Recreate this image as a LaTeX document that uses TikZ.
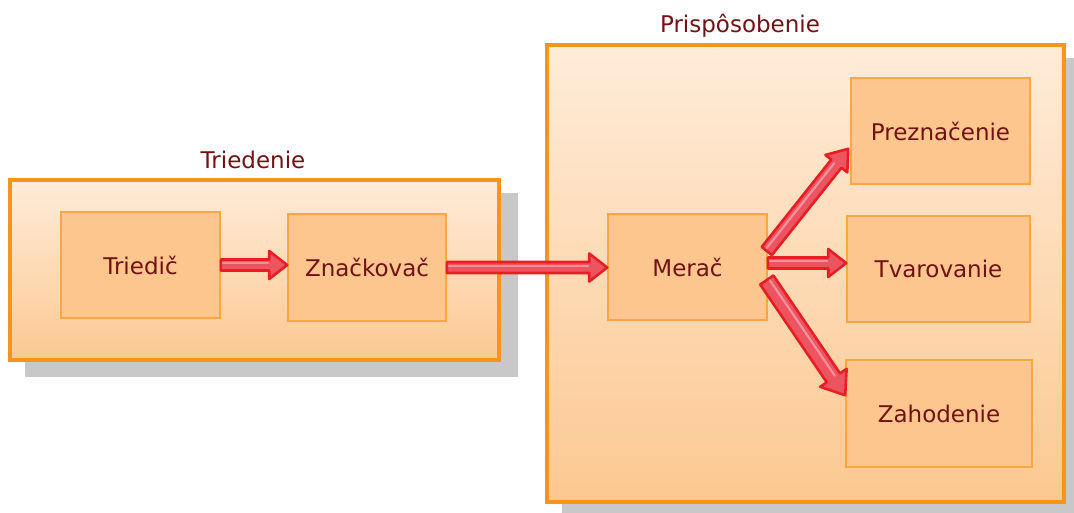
\documentclass[tikz,border=0pt]{standalone}
\usepackage{fontspec}
\setmainfont{DejaVu Sans}
\usetikzlibrary{calc,backgrounds}

\definecolor{grpborder}{RGB}{247,148,29}
\definecolor{grptop}{RGB}{255,236,217}
\definecolor{grpbot}{RGB}{252,200,145}
\definecolor{boxfill}{RGB}{253,198,142}
\definecolor{boxborder}{RGB}{249,166,67}
\definecolor{shadowgrey}{RGB}{200,200,200}
\definecolor{labeltext}{RGB}{115,18,20}
\definecolor{arrowline}{RGB}{232,30,37}
\definecolor{arrowfill}{RGB}{236,84,96}
\definecolor{arrowshinecol}{RGB}{246,160,170}

% block arrow from coordinate #1 to coordinate #2;
% #3 shaft half width, #4 head half width, #5 head length (all in pt)
\newdimen\badx
\newdimen\bady
\newcommand\blockarrow[5]{%
  \pgfextractx{\badx}{\pgfpointdiff{\pgfpointanchor{#1}{center}}{\pgfpointanchor{#2}{center}}}%
  \pgfextracty{\bady}{\pgfpointdiff{\pgfpointanchor{#1}{center}}{\pgfpointanchor{#2}{center}}}%
  \pgfmathsetmacro\baang{atan2(\bady,\badx)}%
  \pgfmathsetmacro\balen{veclen(\badx,\bady)}%
  \pgfmathsetmacro\baneck{\balen-#5}%
  \begin{scope}[shift={(#1)}, rotate=\baang]
    \draw[arrowbody] (0pt,#3pt) -- (\baneck pt,#3pt) -- (\baneck pt,#4pt)
      -- (\balen pt,0pt) -- (\baneck pt,-#4pt) -- (\baneck pt,-#3pt)
      -- (0pt,-#3pt) -- cycle;
    \draw[arrowshine] (2pt,{#3*0.3pt}) -- ({\baneck pt-1pt},{#3*0.3pt});
  \end{scope}}

\begin{document}
\begin{tikzpicture}[x=1pt,y=-1pt,
  font=\fontsize{23}{27}\selectfont,
  group/.style={draw=grpborder, line width=3.5pt, top color=grptop,
    bottom color=grpbot, inner sep=0pt},
  stagebox/.style={draw=boxborder, line width=1.6pt, fill=boxfill,
    inner sep=0pt, text=labeltext},
  grouptitle/.style={text=labeltext, anchor=base, inner sep=0pt},
  arrowbody/.style={draw=arrowline, fill=arrowfill, line width=2.6pt,
    line join=round},
  arrowshine/.style={draw=arrowshinecol, line width=2.2pt, line cap=round,
    opacity=0.8}]

\useasboundingbox (0,0) rectangle (1074,512);

% group frames
\node[group, minimum width=489pt, minimum height=180pt] (triedenie) at (254.5,270) {};
\node[group, minimum width=517pt, minimum height=457pt] (prisposobenie) at (805.5,273.5) {};

% drop shadows behind the frames
\begin{scope}[on background layer]
  \fill[shadowgrey] ($(triedenie.south west)+(17,15)$) rectangle ($(triedenie.north east)+(17,15)$);
  \fill[shadowgrey] ($(prisposobenie.south west)+(17,15)$) rectangle ($(prisposobenie.north east)+(17,15)$);
\end{scope}

% group titles
\node[grouptitle] (t1) at (253,168) {Triedenie};
\node[grouptitle] (t2) at (740,32) {Prispôsobenie};

% stages
\node[stagebox, minimum width=159pt, minimum height=106pt] (triedic) at (140.5,265) {Triedič};
\node[stagebox, minimum width=158pt, minimum height=107pt] (znackovac) at (367,267.5) {Značkovač};
\node[stagebox, minimum width=159pt, minimum height=106pt] (merac) at (687.5,267) {Merač};
\node[stagebox, minimum width=179pt, minimum height=106pt] (preznacenie) at (940.5,131) {Preznačenie};
\node[stagebox, minimum width=183pt, minimum height=106pt] (tvarovanie) at (938.5,269) {Tvarovanie};
\node[stagebox, minimum width=186pt, minimum height=107pt] (zahodenie) at (939,413.5) {Zahodenie};

% connector end points
\coordinate (a1s) at (triedic.east);
\coordinate (a1e) at (triedic.east -| znackovac.west);
\coordinate (a2s) at (znackovac.east);
\coordinate (a2e) at (znackovac.east -| merac.west);
\coordinate (a3s) at ($(merac.east)+(-1,-16)$);
\coordinate (a3e) at ($(preznacenie.south west)+(-2,-36)$);
\coordinate (a4s) at ($(merac.east)+(0,-4)$);
\coordinate (a4e) at ($(merac.east -| tvarovanie.west)+(0,-4)$);
\coordinate (a5s) at ($(merac.east)+(-1,13)$);
\coordinate (a5e) at ($(zahodenie.north west)+(0,36)$);

% connectors
\blockarrow{a1s}{a1e}{5.5}{14}{18}
\blockarrow{a2s}{a2e}{5.5}{14}{18}
\blockarrow{a3s}{a3e}{6.5}{14}{19}
\blockarrow{a4s}{a4e}{5.5}{14}{18}
\blockarrow{a5s}{a5e}{8}{16}{21}
\end{tikzpicture}
\end{document}
